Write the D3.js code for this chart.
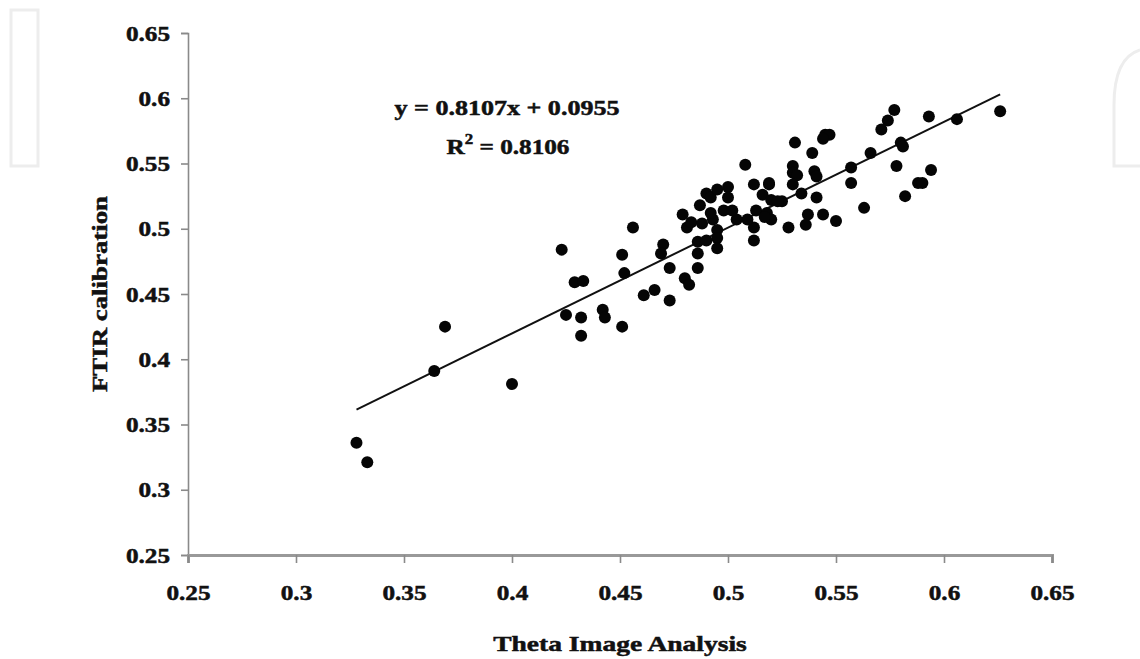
<!DOCTYPE html>
<html>
<head>
<meta charset="utf-8">
<script src="https://cdn.jsdelivr.net/npm/d3@7"></script>
<style>
  html, body { margin: 0; padding: 0; background: #fff; }
  svg { display: block; }
  text { font-family: "Liberation Serif", "Times New Roman", serif; font-weight: bold; fill: #111; stroke: #111; stroke-width: 0.5px; }
</style>
</head>
<body>
<svg id="chart" width="1140" height="659"></svg>
<script>
// Theta (image analysis) vs FTIR calibration measurements
const thetaImage = [
  0.328, 0.333, 0.364, 0.369, 0.400, 0.423, 0.425, 0.429, 0.433, 0.432,
  0.432, 0.442, 0.443, 0.451, 0.451, 0.456, 0.452, 0.461, 0.466, 0.473,
  0.470, 0.469, 0.473, 0.486, 0.480, 0.482, 0.479, 0.481, 0.483, 0.486,
  0.486, 0.508, 0.487, 0.490, 0.492, 0.495, 0.500, 0.500, 0.498, 0.493,
  0.495, 0.495, 0.495, 0.490, 0.492, 0.488, 0.512, 0.519, 0.516, 0.520,
  0.525, 0.513, 0.518, 0.520, 0.512, 0.512, 0.509, 0.504, 0.502, 0.577,
  0.574, 0.571, 0.593, 0.606, 0.626, 0.545, 0.547, 0.544, 0.531, 0.539,
  0.580, 0.581, 0.566, 0.530, 0.530, 0.532, 0.540, 0.541, 0.557, 0.557,
  0.578, 0.594, 0.588, 0.590, 0.519, 0.530, 0.534, 0.541, 0.582, 0.523,
  0.563, 0.537, 0.544, 0.536, 0.550, 0.528, 0.517
];
const ftirCalibration = [
  0.336, 0.321, 0.391, 0.425, 0.381, 0.484, 0.434, 0.459, 0.460, 0.432,
  0.418, 0.438, 0.432, 0.425, 0.480, 0.501, 0.466, 0.449, 0.453, 0.445,
  0.488, 0.481, 0.470, 0.470, 0.462, 0.457, 0.511, 0.501, 0.505, 0.490,
  0.481, 0.549, 0.518, 0.527, 0.524, 0.530, 0.532, 0.524, 0.514, 0.507,
  0.499, 0.493, 0.485, 0.491, 0.512, 0.504, 0.534, 0.534, 0.526, 0.522,
  0.521, 0.514, 0.512, 0.507, 0.501, 0.491, 0.507, 0.507, 0.514, 0.591,
  0.583, 0.576, 0.586, 0.584, 0.590, 0.572, 0.572, 0.569, 0.566, 0.558,
  0.566, 0.563, 0.558, 0.548, 0.543, 0.541, 0.544, 0.540, 0.547, 0.535,
  0.548, 0.545, 0.535, 0.535, 0.535, 0.534, 0.527, 0.524, 0.525, 0.521,
  0.516, 0.511, 0.511, 0.503, 0.506, 0.501, 0.509
];

// Linear trend line
const slope = 0.8107;
const intercept = 0.0955;
const rSquared = 0.8106;

// Axis ticks
const xTicks = [0.25, 0.3, 0.35, 0.4, 0.45, 0.5, 0.55, 0.6, 0.65];
const yTicks = [0.25, 0.3, 0.35, 0.4, 0.45, 0.5, 0.55, 0.6, 0.65];
const xTickLabels = ["0.25", "0.3", "0.35", "0.4", "0.45", "0.5", "0.55", "0.6", "0.65"];
const yTickLabels = ["0.25", "0.3", "0.35", "0.4", "0.45", "0.5", "0.55", "0.6", "0.65"];

const xTitle = "Theta Image Analysis";
const yTitle = "FTIR calibration";

const svg = d3.select("#chart");

// Faint publisher mark outlines in the top corners
const mark = svg.append("g").attr("fill", "none").attr("stroke", "#ededed").attr("stroke-width", 3);
mark.append("rect").attr("x", 11).attr("y", 10).attr("width", 27).attr("height", 156);
mark.append("path").attr("d", "M1140,50 Q1114,58 1114,105 L1114,166 L1140,166");

const plotLeft = 188, plotRight = 1052, plotTop = 33, plotBottom = 555;

const x = d3.scaleLinear().domain([0.25, 0.65]).range([plotLeft, plotRight]);
const y = d3.scaleLinear().domain([0.25, 0.65]).range([plotBottom, plotTop]);

// widen glyphs to the heavy, broad serif of the figure
function widen(sel, f) {
  sel.each(function () {
    const w = this.getComputedTextLength();
    d3.select(this).attr("textLength", w * f).attr("lengthAdjust", "spacingAndGlyphs");
  });
}

// Y axis
const yAxis = svg.append("g")
  .attr("transform", `translate(${plotLeft},0)`)
  .call(d3.axisLeft(y).tickValues(yTicks).tickSize(7).tickPadding(11)
    .tickFormat((d, i) => yTickLabels[i]));
yAxis.attr("font-family", null).attr("font-size", null);
yAxis.select(".domain").attr("stroke", "#8a8a8a").attr("stroke-width", 1.6);
yAxis.selectAll(".tick line").attr("stroke", "#8a8a8a").attr("stroke-width", 1.6);
yAxis.selectAll(".tick text")
  .attr("font-size", 21).attr("fill", "#111")
  .attr("dy", "0.34em");
widen(yAxis.selectAll(".tick text"), 1.2);

// X axis
const xAxis = svg.append("g")
  .attr("transform", `translate(0,${plotBottom})`)
  .call(d3.axisBottom(x).tickValues(xTicks).tickSize(8).tickPadding(22)
    .tickFormat((d, i) => xTickLabels[i]));
xAxis.attr("font-family", null).attr("font-size", null);
xAxis.select(".domain").attr("stroke", "#999").attr("stroke-width", 3);
xAxis.selectAll(".tick line").attr("stroke", "#8a8a8a").attr("stroke-width", 1.6);
xAxis.selectAll(".tick text")
  .attr("font-size", 21).attr("fill", "#111")
  .attr("dy", "0.73em");
widen(xAxis.selectAll(".tick text"), 1.2);

// Axis titles
const xt = svg.append("text")
  .attr("x", 620).attr("y", 651)
  .attr("text-anchor", "middle").attr("font-size", 22)
  .text(xTitle);
widen(xt, 1.25);

const yt = svg.append("text")
  .attr("transform", "translate(107,294) rotate(-90)")
  .attr("text-anchor", "middle").attr("font-size", 22)
  .text(yTitle);
widen(yt, 1.22);

// Trend line across the range of the data
const xExt = d3.extent(thetaImage);
svg.append("line")
  .attr("x1", x(xExt[0])).attr("y1", y(slope * xExt[0] + intercept))
  .attr("x2", x(xExt[1])).attr("y2", y(slope * xExt[1] + intercept))
  .attr("stroke", "#111").attr("stroke-width", 2);

// Points
svg.append("g").selectAll("circle")
  .data(thetaImage.map((v, i) => [v, ftirCalibration[i]]))
  .join("circle")
  .attr("cx", d => x(d[0]))
  .attr("cy", d => y(d[1]))
  .attr("r", 6)
  .attr("fill", "#050505");

// Equation and R²
const eq1 = svg.append("text")
  .attr("x", 507).attr("y", 115)
  .attr("text-anchor", "middle").attr("font-size", 21)
  .text(`y = ${slope}x + ${intercept}`);
widen(eq1, 1.24);

const eq2 = svg.append("text")
  .attr("x", 508).attr("y", 154)
  .attr("text-anchor", "middle").attr("font-size", 21);
eq2.append("tspan").text("R");
eq2.append("tspan").attr("font-size", 14).attr("dy", -10).text("2");
eq2.append("tspan").attr("dy", 10).text(` = ${rSquared}`);
widen(eq2, 1.2);
</script>
</body>
</html>
